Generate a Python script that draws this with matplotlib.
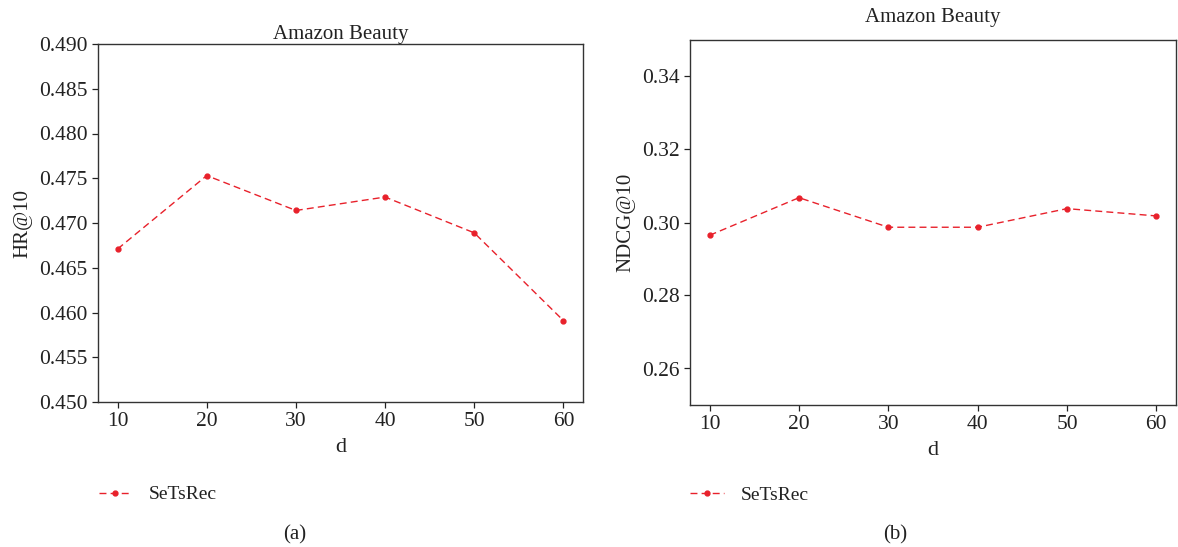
import matplotlib.pyplot as plt

# datos
d = [10, 20, 30, 40, 50, 60]
hr10 = [0.4671, 0.4753, 0.4714, 0.4729, 0.4689, 0.4591]
ndcg10 = [0.2965, 0.3068, 0.2987, 0.2987, 0.3038, 0.3018]
hr_ticks = [0.450, 0.455, 0.460, 0.465, 0.470, 0.475, 0.480, 0.485, 0.490]
ndcg_ticks = [0.26, 0.28, 0.30, 0.32, 0.34]

plt.rcParams['font.family'] = ['Liberation Serif', 'DejaVu Serif']
red = '#e8212b'
spine_col = '#333333'

fig = plt.figure(figsize=(11.78, 5.47), dpi=100)
ax1 = fig.add_axes([98 / 1178, 1 - 402 / 547, 485 / 1178, 358 / 547])
ax2 = fig.add_axes([690 / 1178, 1 - 405 / 547, 486 / 1178, 365 / 547])


def estilo(ax, ylabel, ticks, fmt):
    for s in ax.spines.values():
        s.set_color(spine_col)
        s.set_linewidth(1.0)
    ax.set_xlim(7.8, 62.2)
    ax.set_xticks(d)
    ax.set_yticks(ticks)
    ax.set_yticklabels([fmt.format(t) for t in ticks])
    ax.tick_params(labelsize=15.5, colors='#222222', length=4, width=0.9)
    ax.set_xlabel('d', fontsize=16, color='#222222', labelpad=5)
    ax.set_ylabel(ylabel, fontsize=15, color='#222222', labelpad=5)


# (a) HR@10
ax1.plot(d, hr10, '--', color=red, marker='o', markersize=3.5, linewidth=1.0,
         dashes=(5, 3), label='SeTsRec')
ax1.set_ylim(0.450, 0.490)
estilo(ax1, 'HR@10', hr_ticks, '{:.3f}')
ax1.set_title('Amazon Beauty', fontsize=15, color='#222222', pad=3)
ax1.legend(loc='upper left', bbox_to_anchor=(-0.035, -0.185), frameon=False,
           fontsize=14, handlelength=1.7, handletextpad=0.9,
           labelcolor='#222222')

# (b) NDCG@10
ax2.plot(d, ndcg10, '--', color=red, marker='o', markersize=3.5, linewidth=1.0,
         dashes=(5, 3), label='SeTsRec')
ax2.set_ylim(0.25, 0.35)
estilo(ax2, 'NDCG@10', ndcg_ticks, '{:.2f}')
ax2.set_title('Amazon Beauty', fontsize=15, color='#222222', pad=13)
ax2.legend(loc='upper left', bbox_to_anchor=(-0.035, -0.175), frameon=False,
           fontsize=14, handlelength=1.7, handletextpad=0.9,
           labelcolor='#222222')

fig.text(295 / 1178, 1 - 535 / 547, '(a)', ha='center', va='center',
         fontsize=15, color='#222222')
fig.text(895 / 1178, 1 - 535 / 547, '(b)', ha='center', va='center',
         fontsize=15, color='#222222')

plt.savefig('out.png', dpi=100)
